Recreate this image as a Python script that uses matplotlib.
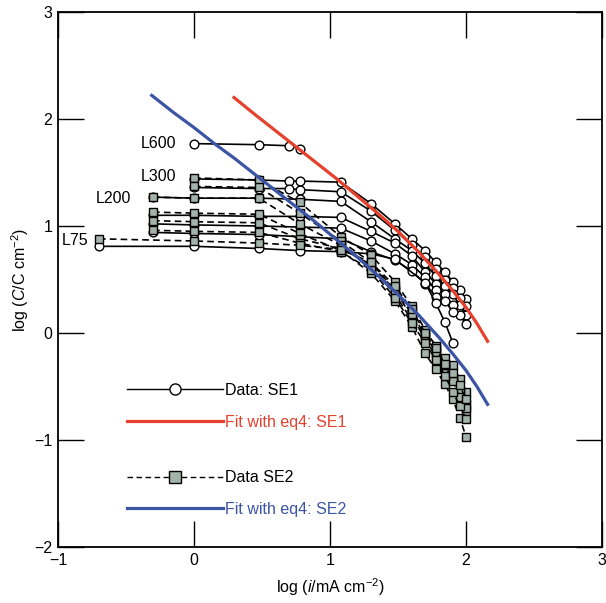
import matplotlib
matplotlib.use("Agg")
import matplotlib.pyplot as plt
from matplotlib.lines import Line2D

plt.rcParams['font.family'] = ['Liberation Sans', 'DejaVu Sans']
plt.rcParams['mathtext.fontset'] = 'custom'
plt.rcParams['mathtext.rm'] = 'Liberation Sans'
plt.rcParams['mathtext.it'] = 'Liberation Sans:italic'

# log of current density steps (mA cm-2)
x_long = [0.0, 0.477, 0.699, 0.778, 1.079, 1.301, 1.477, 1.602, 1.699, 1.778, 1.845, 1.903, 1.954, 2.0]
x_mid = [-0.301, 0.0, 0.477, 0.778, 1.079, 1.301, 1.477, 1.602, 1.699, 1.778, 1.845, 1.903, 1.954, 2.0]
x_top2 = [0.0, 0.477, 0.778, 1.079, 1.301, 1.477, 1.602, 1.699, 1.778, 1.845, 1.903, 1.954, 2.0]
x_l75 = [-0.699, 0.0, 0.477, 0.778, 1.079, 1.301, 1.477, 1.602, 1.699, 1.778, 1.845, 1.903, 1.954, 2.0]

# SE1 data (circles, solid)
se1_l600_x = [0.0, 0.477, 0.699, 0.778]
se1_l600_y = [1.77, 1.76, 1.75, 1.72]
se1_a_y = [1.44, 1.43, 1.42, 1.42, 1.41, 1.21, 1.02, 0.88, 0.77, 0.66, 0.57, 0.48, 0.40, 0.32]
se1_b_y = [1.36, 1.35, 1.35, 1.34, 1.32, 1.14, 0.96, 0.82, 0.71, 0.60, 0.50, 0.42, 0.33, 0.25]
se1_l200_y = [1.27, 1.26, 1.26, 1.25, 1.23, 1.04, 0.88, 0.77, 0.65, 0.53, 0.44, 0.36, 0.26, 0.17]
se1_c_y = [1.10, 1.10, 1.09, 1.09, 1.08, 0.95, 0.84, 0.72, 0.57, 0.46, 0.36, 0.26, 0.17, 0.08]
se1_d_x = [-0.301, 0.0, 0.477, 0.778, 1.079, 1.301, 1.477, 1.602, 1.699, 1.778, 1.845, 1.903]
se1_d_y = [1.02, 1.01, 1.00, 0.99, 0.98, 0.86, 0.74, 0.64, 0.52, 0.40, 0.30, 0.20]
se1_e_x = [-0.301, 0.0, 0.477, 0.778, 1.079, 1.301, 1.477, 1.602, 1.699, 1.778]
se1_e_y = [0.94, 0.93, 0.92, 0.90, 0.88, 0.76, 0.68, 0.58, 0.46, 0.34]
se1_l75_x = [-0.699, 0.0, 0.477, 0.778, 1.079, 1.301, 1.477, 1.699, 1.778, 1.845, 1.903]
se1_l75_y = [0.81, 0.81, 0.79, 0.77, 0.76, 0.74, 0.69, 0.47, 0.28, 0.10, -0.09]

# SE2 data (squares, dashed)
se2_a_y = [1.45, 1.43, 1.22, 0.90, 0.73, 0.48, 0.25, 0.03, -0.12, -0.23, -0.30, -0.43, -0.55]
se2_b_y = [1.37, 1.36, 1.12, 0.86, 0.66, 0.40, 0.15, -0.05, -0.22, -0.34, -0.44, -0.53, -0.66]
se2_l200_y = [1.27, 1.26, 1.26, 1.02, 0.82, 0.62, 0.36, 0.12, -0.02, -0.16, -0.30, -0.42, -0.54, -0.73]
se2_c_y = [1.13, 1.12, 1.11, 0.93, 0.77, 0.56, 0.30, 0.06, -0.19, -0.34, -0.48, -0.62, -0.79, -0.97]
se2_d_y = [1.05, 1.04, 1.03, 0.88, 0.79, 0.64, 0.40, 0.18, -0.02, -0.18, -0.30, -0.45, -0.60, -0.70]
se2_e_y = [0.96, 0.95, 0.94, 0.84, 0.76, 0.59, 0.33, 0.09, -0.09, -0.25, -0.40, -0.55, -0.68, -0.80]
se2_l75_y = [0.88, 0.86, 0.84, 0.82, 0.78, 0.66, 0.44, 0.22, 0.00, -0.14, -0.29, -0.37, -0.49, -0.62]

# eq4 fits
fit1_x = [0.285, 0.45, 0.6, 0.75, 0.9, 1.05, 1.2, 1.35, 1.5, 1.65, 1.8, 1.9, 2.0, 2.08, 2.165]
fit1_y = [2.21, 2.04, 1.89, 1.74, 1.59, 1.44, 1.28, 1.12, 0.95, 0.76, 0.55, 0.40, 0.24, 0.09, -0.09]
fit2_x = [-0.32, -0.15, 0.0, 0.15, 0.3, 0.46, 0.6, 0.76, 0.9, 1.05, 1.2, 1.35, 1.5, 1.65, 1.8,
          1.9, 2.0, 2.08, 2.165]
fit2_y = [2.23, 2.06, 1.92, 1.77, 1.63, 1.47, 1.33, 1.17, 1.03, 0.87, 0.71, 0.54, 0.36, 0.17, -0.04,
          -0.19, -0.35, -0.50, -0.68]

labels = ['L600', 'L300', 'L200', 'L75']
label_x = [-0.13, -0.13, -0.46, -0.78]
label_y = [1.77, 1.46, 1.26, 0.86]

red = '#e5412d'
blue = '#3b54a6'
sq_fill = '#a3b3ab'

fig = plt.figure(figsize=(6.06, 6.03), dpi=100)
ax = fig.add_axes([58 / 606, 1 - 547 / 603, 544 / 606, 535 / 603])

se1_kw = dict(color='black', lw=1.2, marker='o', ms=6.3, mfc='white', mec='black', mew=1.0, zorder=3)
se2_kw = dict(color='black', lw=1.2, ls=(0, (4, 2.5)), marker='s', ms=6.3, mfc=sq_fill, mec='black',
              mew=1.0, zorder=4)

ax.plot(se1_l600_x, se1_l600_y, **se1_kw)
ax.plot(x_long, se1_a_y, **se1_kw)
ax.plot(x_long, se1_b_y, **se1_kw)
ax.plot(x_mid, se1_l200_y, **se1_kw)
ax.plot(x_mid, se1_c_y, **se1_kw)
ax.plot(se1_d_x, se1_d_y, **se1_kw)
ax.plot(se1_e_x, se1_e_y, **se1_kw)
ax.plot(se1_l75_x, se1_l75_y, **se1_kw)

ax.plot(x_top2, se2_a_y, **se2_kw)
ax.plot(x_top2, se2_b_y, **se2_kw)
ax.plot(x_mid, se2_l200_y, **se2_kw)
ax.plot(x_mid, se2_c_y, **se2_kw)
ax.plot(x_mid, se2_d_y, **se2_kw)
ax.plot(x_mid, se2_e_y, **se2_kw)
ax.plot(x_l75, se2_l75_y, **se2_kw)

ax.plot(fit1_x, fit1_y, color=red, lw=2.3, zorder=5, solid_capstyle='butt', solid_joinstyle='round')
ax.plot(fit2_x, fit2_y, color=blue, lw=2.3, zorder=5, solid_capstyle='butt', solid_joinstyle='round')

for lab, lx, ly in zip(labels, label_x, label_y):
    ax.text(lx, ly, lab, ha='right', va='center', fontsize=11.5, zorder=6)

ax.set_xlim(-1, 3)
ax.set_ylim(-2, 3)
ax.set_xticks([-1, 0, 1, 2, 3])
ax.set_yticks([-2, -1, 0, 1, 2, 3])
ax.tick_params(direction='in', length=19, width=1.0, top=True, right=True,
               labelsize=11.5, pad=4)
for s in ax.spines.values():
    s.set_linewidth(1.3)

ax.set_xlabel(r'log ($\mathit{i}$/mA cm$^{-2}$)', fontsize=11.5, labelpad=6)
ax.set_ylabel(r'log ($\mathit{C}$/C cm$^{-2}$)', fontsize=11.5, labelpad=2)

h1 = [Line2D([], [], color='black', lw=1.0, marker='o', ms=8, mfc='white', mec='black'),
      Line2D([], [], color=red, lw=2.3)]
h2 = [Line2D([], [], color='black', lw=1.0, ls=(0, (4, 2.5)), marker='s', ms=8, mfc=sq_fill, mec='black'),
      Line2D([], [], color=blue, lw=2.3)]
leg_kw = dict(loc='center left', frameon=False, fontsize=11.5, handlelength=6.0,
              handletextpad=0.15, borderpad=0, borderaxespad=0, labelspacing=1.05,
              numpoints=1, labelcolor='linecolor')
leg1 = ax.legend(h1, ['Data: SE1', 'Fit with eq4: SE1'], bbox_to_anchor=(0.127, 0.263), **leg_kw)
ax.add_artist(leg1)
leg2 = ax.legend(h2, ['Data SE2', 'Fit with eq4: SE2'], bbox_to_anchor=(0.127, 0.100), **leg_kw)

fig.savefig('out.png', dpi=100)
